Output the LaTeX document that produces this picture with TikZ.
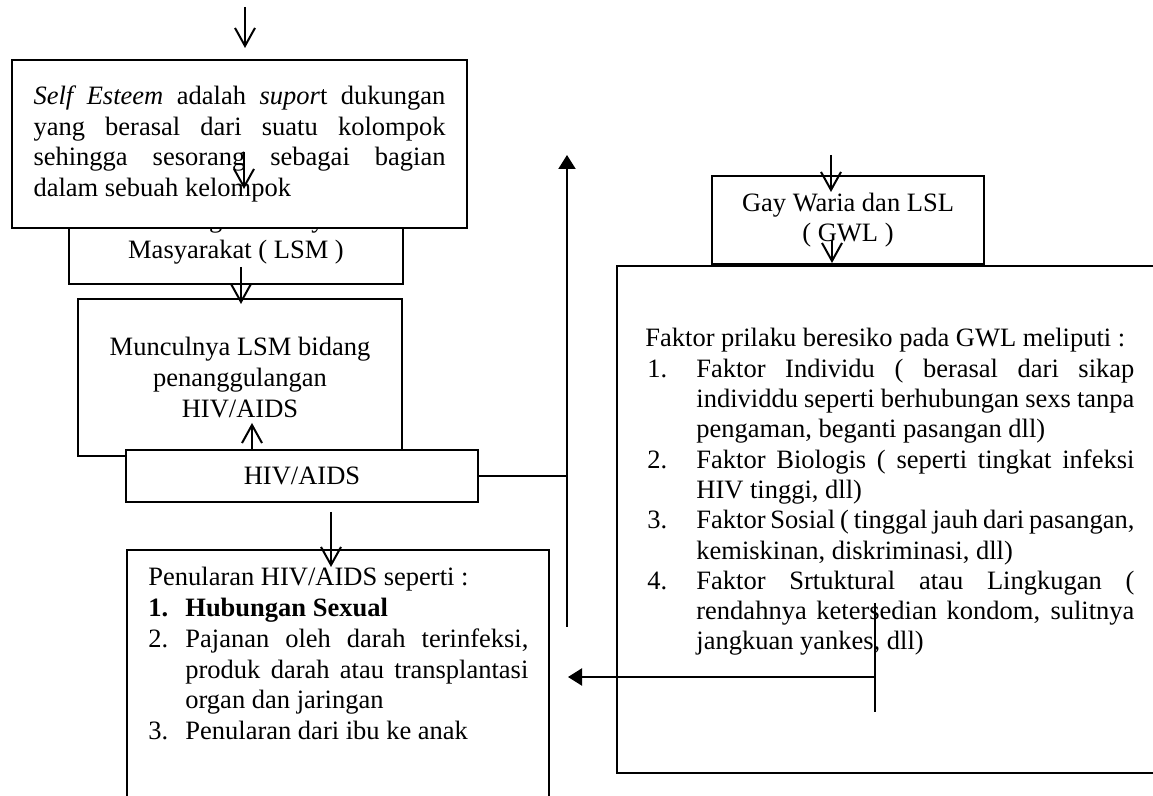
\documentclass[tikz,border=0pt]{standalone}
\usepackage{fontspec}
\setmainfont{Liberation Serif}
\usepackage{tikz}
\usetikzlibrary{arrows.meta}
\pgfdeclarelayer{edgelayer}
\pgfdeclarelayer{nodelayer}
\pgfsetlayers{main,nodelayer,edgelayer}
\tikzstyle{box}=[rectangle, fill=white, draw=black, line width=1.2pt, inner sep=0pt, font=\fontsize{13.25pt}{15.35pt}\selectfont]
\tikzstyle{para}=[inner sep=0pt, anchor=base west, align=justify, font=\fontsize{13.25pt}{15.35pt}\selectfont]
\tikzstyle{edge}=[draw=black, line width=1pt]
\tikzstyle{openarrow}=[edge, -{Straight Barb[length=9pt,width=10pt]}]
\tikzstyle{fillarrow}=[edge, -{Triangle[length=7pt,width=8.5pt]}]
\newcommand{\numitem}[2]{\par\hangindent=#1\hangafter=1\noindent\makebox[#1][l]{#2}}
\tolerance=9999
\hbadness=10000
\hyphenpenalty=10000
\exhyphenpenalty=10000

\begin{document}
\begin{tikzpicture}[x=0.5pt, y=-0.5pt]
	\useasboundingbox (0,0) rectangle (1153,796);
	\begin{pgfonlayer}{nodelayer}

	%kolom kiri
		\node [style=box, minimum width=167pt, minimum height=47pt, align=center] (1) at (236,237) {Lembaga Swadaya\\Masyarakat ( LSM )};
		\node [style=box, minimum width=227.5pt, minimum height=84pt, text width=206pt, align=justify] (2) at (239.5,144) {\textit{Self Esteem} adalah \textit{supor}t dukungan\linebreak
			yang berasal dari suatu kolompok\linebreak
			sehingga sesorang sebagai bagian\linebreak
			dalam sebuah kelompok\par};
		\node [style=box, minimum width=162pt, minimum height=78.5pt, align=center] (3) at (240,377.5) {Munculnya LSM bidang\\penanggulangan\\HIV/AIDS};
		\node [style=box, minimum width=176pt, minimum height=26pt] (4) at (302,476) {HIV/AIDS};
		\node [style=box, minimum width=211pt, minimum height=135pt] (5) at (338,685) {};
		\node [style=para, text width=190pt] (8) at (148,586) {Penularan HIV/AIDS seperti :
			\numitem{18.5pt}{\textbf{1.}}\textbf{Hubungan Sexual}
			\numitem{18.5pt}{2.}Pajanan oleh darah terinfeksi,\linebreak
			produk darah atau transplantasi\linebreak
			organ dan jaringan
			\numitem{18.5pt}{3.}Penularan dari ibu ke anak\par};

	%kolom kanan
		\node [style=box, minimum width=271.5pt, minimum height=253.5pt] (7) at (888.5,519.5) {};
		\node [style=box, minimum width=136pt, minimum height=44pt, align=center] (6) at (848,220) {Gay Waria dan LSL\\( GWL )};
		\node [style=para, text width=244.5pt, font=\fontsize{13.25pt}{15.15pt}\selectfont] (9) at (645,347) {Faktor prilaku beresiko pada GWL meliputi :
			\numitem{25.5pt}{\hspace{1pt}1.}Faktor Individu ( berasal dari sikap\linebreak
			individdu seperti berhubungan sexs tanpa\linebreak
			pengaman, beganti pasangan dll)
			\numitem{25.5pt}{\hspace{1pt}2.}Faktor Biologis ( seperti tingkat infeksi\linebreak
			HIV tinggi, dll)
			\numitem{25.5pt}{\hspace{1pt}3.}Faktor Sosial ( tinggal jauh dari pasangan,\linebreak
			kemiskinan, diskriminasi, dll)
			\numitem{25.5pt}{\hspace{1pt}4.}Faktor Srtuktural atau Lingkugan (\linebreak
			rendahnya ketersedian kondom, sulitnya\linebreak
			jangkuan yankes, dll)\par};

	%titik sambung
		\coordinate (10) at (245,7);
		\coordinate (11) at (245,48);
		\coordinate (12) at (244,152);
		\coordinate (13) at (244,189);
		\coordinate (14) at (241,267);
		\coordinate (15) at (241,304);
		\coordinate (16) at (252,450);
		\coordinate (17) at (252,423);
		\coordinate (18) at (567,476);
		\coordinate (19) at (567,627);
		\coordinate (20) at (567,155);
		\coordinate (21) at (331,512);
		\coordinate (22) at (331,567);
		\coordinate (23) at (831,155);
		\coordinate (24) at (831,192);
		\coordinate (25) at (832,240);
		\coordinate (26) at (832,263);
		\coordinate (27) at (875,603);
		\coordinate (28) at (875,712);
		\coordinate (29) at (875,677);
		\coordinate (30) at (568,677);

	\end{pgfonlayer}
	\begin{pgfonlayer}{edgelayer}

		%panah
		\draw [style=openarrow] (10) to (11);
		\draw [style=openarrow] (12) to (13);
		\draw [style=openarrow] (14) to (15);
		\draw [style=openarrow] (16) to (17);
		\draw [style=openarrow] (21) to (22);
		\draw [style=openarrow] (23) to (24);
		\draw [style=openarrow] (25) to (26);
		\draw [style=edge] (4) to (18);
		\draw [style=fillarrow] (19) to (20);
		\draw [style=edge] (27) to (28);
		\draw [style=fillarrow] (29) to (30);

	\end{pgfonlayer}
\end{tikzpicture}
\end{document}
